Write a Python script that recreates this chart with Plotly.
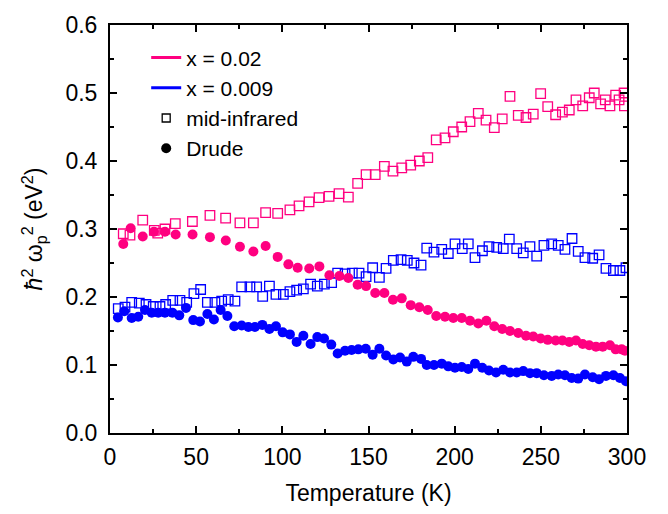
import plotly.graph_objects as go

# x = 0.02, mid-infrared (open squares)
t_mir_02 = [7.7, 11.6, 19.0, 25.7, 27.7, 31.9, 37.9, 47.8, 58.0, 67.1, 75.4, 83.2, 90.3, 97.3,
            104.4, 109.7, 115.5, 121.3, 127.1, 132.9, 138.3, 143.7, 148.6, 153.9, 159.2, 164.2,
            169.3, 174.5, 179.5, 184.4, 189.3, 194.4, 199.2, 204.1, 208.9, 213.7, 218.2, 223.0,
            227.6, 232.1, 236.9, 241.4, 245.6, 249.9, 254.0, 258.6, 262.5, 266.5, 270.4, 274.3,
            278.1, 281.0, 284.7, 287.4, 290.1, 293.4, 295.4, 298.3, 298.5]
v_mir_02 = [0.293, 0.291, 0.313, 0.298, 0.294, 0.300, 0.308, 0.311, 0.320, 0.316, 0.309, 0.309, 0.324, 0.323,
            0.328, 0.334, 0.340, 0.346, 0.348, 0.352, 0.347, 0.367, 0.380, 0.380, 0.392, 0.385,
            0.390, 0.394, 0.400, 0.405, 0.431, 0.434, 0.443, 0.450, 0.458, 0.470, 0.460, 0.449,
            0.462, 0.495, 0.467, 0.464, 0.469, 0.499, 0.480, 0.468, 0.472, 0.475, 0.490, 0.481,
            0.493, 0.500, 0.484, 0.490, 0.481, 0.497, 0.490, 0.500, 0.481]

# x = 0.02, Drude (filled circles)
t_dru_02 = [7.7, 12.0, 19.0, 25.5, 31.9, 38.1, 47.9, 58.0, 67.2, 75.4, 83.2, 90.3, 97.3, 103.5,
            108.9, 115.6, 121.5, 127.3, 133.1, 138.3, 143.7, 148.6, 153.9, 159.2, 164.2, 169.3,
            174.5, 179.5, 184.4, 189.3, 194.4, 199.2, 204.1, 208.9, 213.7, 218.4, 223.0, 227.6,
            232.1, 236.9, 241.4, 245.6, 249.9, 254.0, 258.6, 262.5, 266.5, 270.4, 274.3, 278.1,
            282.0, 285.9, 290.1, 293.4, 296.9, 298.8]
v_dru_02 = [0.278, 0.301, 0.289, 0.296, 0.296, 0.292, 0.292, 0.288, 0.283, 0.274, 0.267, 0.275, 0.259, 0.248,
            0.243, 0.242, 0.245, 0.232, 0.231, 0.228, 0.218, 0.216, 0.206, 0.206, 0.196, 0.198,
            0.188, 0.185, 0.181, 0.172, 0.171, 0.169, 0.169, 0.165, 0.161, 0.165, 0.157, 0.153,
            0.150, 0.147, 0.143, 0.142, 0.139, 0.137, 0.136, 0.136, 0.134, 0.136, 0.131, 0.129,
            0.127, 0.127, 0.129, 0.123, 0.123, 0.121]

# x = 0.009, mid-infrared (open squares)
t_mir_009 = [4.8, 8.7, 12.6, 17.0, 20.9, 25.1, 29.0, 32.3, 36.4, 40.6, 44.5, 48.7, 52.6, 56.5,
             60.9, 64.8, 68.6, 72.5, 76.4, 81.2, 85.1, 88.6, 92.5, 96.3, 100.6, 104.4, 108.3,
             112.2, 116.4, 120.3, 124.4, 128.6, 132.1, 136.4, 140.6, 144.5, 148.6, 152.4, 156.3,
             160.2, 164.4, 168.9, 172.5, 176.4, 180.5, 183.8, 188.0, 192.5, 196.3, 200.2, 204.4,
             207.9, 211.8, 216.1, 219.9, 224.4, 228.2, 231.7, 236.0, 239.8, 243.7, 247.6, 251.8,
             256.3, 260.1, 264.0, 268.1, 271.7, 275.6, 280.1, 283.8, 287.8, 292.1, 295.9, 299.4]
v_mir_009 = [0.183, 0.185, 0.192, 0.191, 0.189, 0.186, 0.186, 0.189, 0.195, 0.195, 0.192, 0.205, 0.211, 0.192,
             0.192, 0.194, 0.196, 0.194, 0.215, 0.215, 0.215, 0.201, 0.216, 0.204, 0.204, 0.208, 0.210,
             0.212, 0.219, 0.216, 0.219, 0.221, 0.235, 0.234, 0.235, 0.235, 0.230, 0.243, 0.229,
             0.242, 0.254, 0.255, 0.254, 0.250, 0.247, 0.272, 0.266, 0.270, 0.264, 0.278, 0.271,
             0.278, 0.258, 0.268, 0.274, 0.273, 0.271, 0.285, 0.271, 0.265, 0.274, 0.260, 0.276,
             0.278, 0.276, 0.270, 0.286, 0.267, 0.258, 0.257, 0.262, 0.242, 0.239, 0.239, 0.243]

# x = 0.009, Drude (filled circles)
t_dru_009 = [4.6, 8.3, 12.6, 16.4, 20.3, 24.2, 28.0, 31.9, 36.2, 40.2, 44.1, 48.3, 52.2, 56.5,
             60.3, 64.2, 68.1, 72.1, 76.4, 80.3, 84.1, 88.4, 92.5, 96.3, 100.2, 104.4, 108.3,
             112.2, 116.4, 120.3, 124.2, 128.4, 132.1, 136.4, 140.2, 144.1, 148.4, 152.4, 156.3,
             160.2, 164.4, 168.3, 172.2, 176.0, 180.5, 183.8, 188.0, 192.5, 196.3, 200.2, 204.1,
             207.9, 211.8, 216.0, 219.9, 224.0, 228.2, 232.1, 236.0, 239.8, 243.7, 247.6, 251.8,
             256.3, 260.1, 264.0, 267.9, 271.7, 275.6, 280.1, 283.8, 287.8, 292.1, 295.9, 299.4]
v_dru_009 = [0.170, 0.179, 0.169, 0.171, 0.181, 0.177, 0.177, 0.177, 0.177, 0.173, 0.184, 0.166, 0.164, 0.175,
             0.167, 0.181, 0.172, 0.157, 0.158, 0.156, 0.156, 0.159, 0.153, 0.157, 0.148, 0.145, 0.134,
             0.143, 0.131, 0.141, 0.139, 0.130, 0.117, 0.121, 0.122, 0.123, 0.124, 0.115, 0.124,
             0.114, 0.108, 0.111, 0.105, 0.112, 0.109, 0.100, 0.100, 0.102, 0.098, 0.096, 0.097,
             0.094, 0.102, 0.096, 0.092, 0.089, 0.093, 0.089, 0.089, 0.091, 0.088, 0.088, 0.085,
             0.084, 0.086, 0.085, 0.081, 0.080, 0.086, 0.082, 0.079, 0.084, 0.085, 0.081, 0.076]

legend_labels = ["x = 0.02", "x = 0.009", "mid-infrared", "Drude"]
x_ticks = [0, 50, 100, 150, 200, 250, 300]
y_ticks = [0.0, 0.1, 0.2, 0.3, 0.4, 0.5, 0.6]

PINK = "#FF0080"
BLUE = "#0000FF"
FONT = "Arial, Liberation Sans, sans-serif"

fig = go.Figure()

def add_mir(t, v, color):
    fig.add_trace(go.Scatter(x=t, y=v, mode="markers", showlegend=False,
                             marker=dict(symbol="square-open", size=9.5, color=color,
                                         line=dict(width=1.3, color=color))))

def add_dru(t, v, color):
    fig.add_trace(go.Scatter(x=t, y=v, mode="markers", showlegend=False,
                             marker=dict(symbol="circle", size=10, color=color,
                                         line=dict(width=0))))

add_mir(t_mir_02, v_mir_02, PINK)
add_mir(t_mir_009, v_mir_009, BLUE)
add_dru(t_dru_02, v_dru_02, PINK)
add_dru(t_dru_009, v_dru_009, BLUE)

# legend entries
fig.add_trace(go.Scatter(x=[None], y=[None], mode="lines", name=legend_labels[0],
                         line=dict(color=PINK, width=3)))
fig.add_trace(go.Scatter(x=[None], y=[None], mode="lines", name=legend_labels[1],
                         line=dict(color=BLUE, width=3)))
fig.add_trace(go.Scatter(x=[None], y=[None], mode="markers", name=legend_labels[2],
                         marker=dict(symbol="square-open", size=8, color="black",
                                     line=dict(width=1.3, color="black"))))
fig.add_trace(go.Scatter(x=[None], y=[None], mode="markers", name=legend_labels[3],
                         marker=dict(symbol="circle", size=10, color="black")))

axis_common = dict(showline=True, linecolor="black", linewidth=2, mirror="allticks",
                   ticks="inside", tickcolor="black", tickwidth=2, ticklen=7,
                   showgrid=False, zeroline=False,
                   tickfont=dict(family=FONT, size=23, color="black"))

fig.update_xaxes(range=[0, 300], tickvals=x_ticks, **axis_common,
                 minor=dict(ticks="inside", ticklen=4, tickwidth=2, tickcolor="black", dtick=25, showgrid=False),
                 ticklabelstandoff=2,
                 title=dict(text="Temperature (K)", font=dict(family=FONT, size=23, color="black"), standoff=16))
fig.update_yaxes(range=[0, 0.6], tickvals=y_ticks, tickformat=".1f", **axis_common,
                 minor=dict(ticks="inside", ticklen=4, tickwidth=2, tickcolor="black", dtick=0.05, showgrid=False),
                 ticklabelstandoff=6,
                 title=dict(text="<i>ħ</i><sup>2</sup> ω<sub>p</sub><sup>2</sup> (eV<sup>2</sup>)",
                            font=dict(family=FONT, size=23, color="black"), standoff=16))

fig.update_layout(
    width=668, height=514,
    margin=dict(l=110, r=41, t=17, b=77),
    paper_bgcolor="white", plot_bgcolor="white",
    font=dict(family=FONT, size=21, color="black"),
    legend=dict(x=0.07, y=0.97, xanchor="left", yanchor="top",
                bgcolor="rgba(0,0,0,0)", borderwidth=0,
                font=dict(family=FONT, size=21, color="black"),
                tracegroupgap=0, itemwidth=30),
)

fig.write_html("out.html")
